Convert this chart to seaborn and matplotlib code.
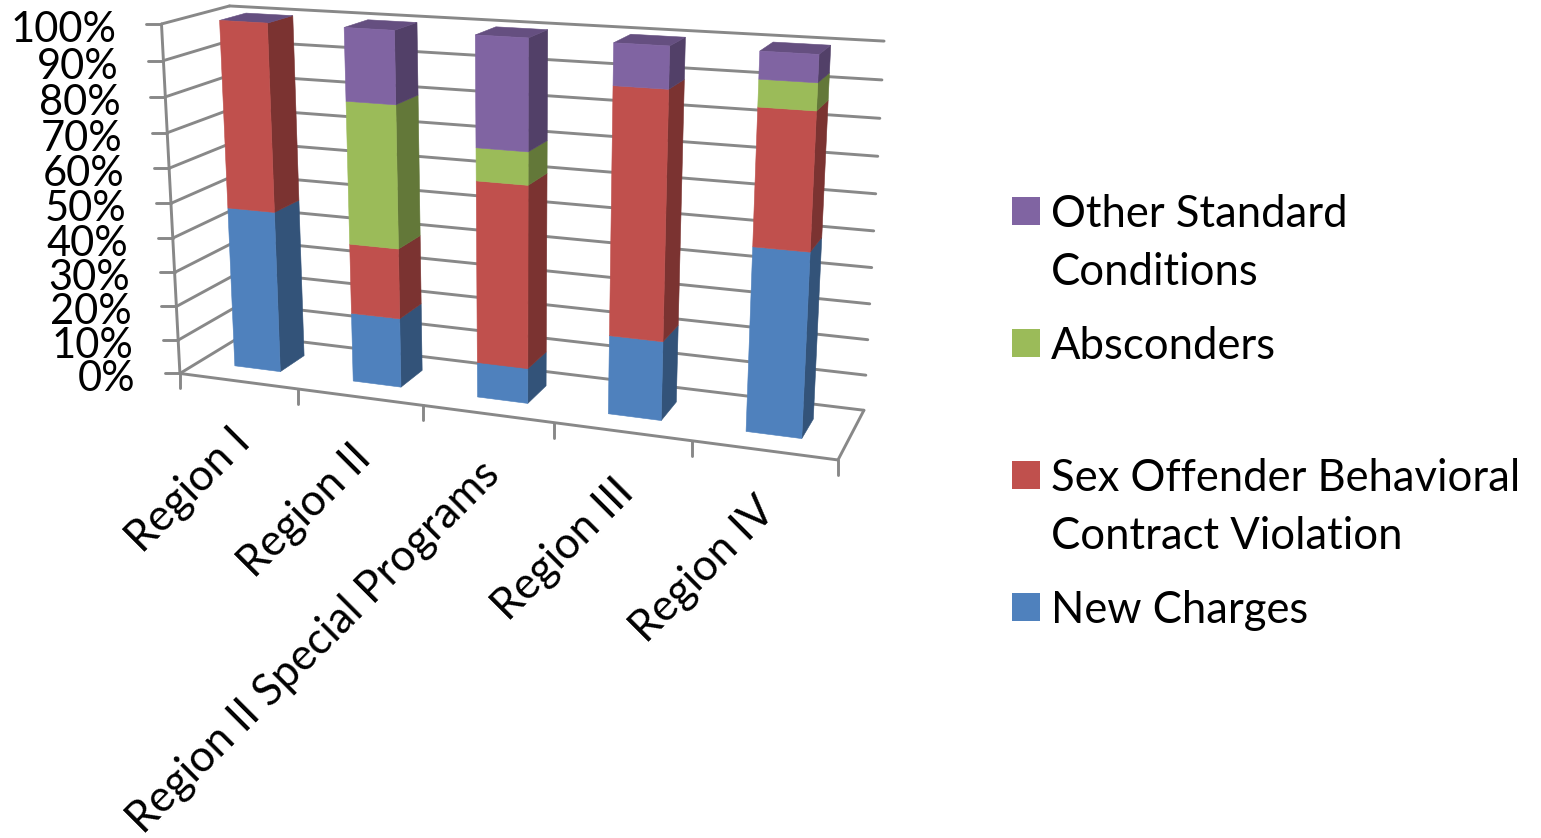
import numpy as np
import pandas as pd
import matplotlib
matplotlib.use("Agg")
import matplotlib.pyplot as plt
import seaborn as sns

# Data
regions = ["Region I", "Region II", "Region II Special Programs", "Region III", "Region IV"]
new_charges = [47, 20, 10, 22, 50]
behavioral = [53, 20, 51, 67, 36]
absconders = [0, 40, 9, 0, 7]
other_standard = [0, 20, 30, 11, 7]
y_ticks = list(range(0, 101, 10))
legend_labels = ["Other Standard\nConditions", "Absconders",
                 "Sex Offender Behavioral\nContract Violation", "New Charges"]

COLORS = sns.color_palette(["#4F81BD", "#C0504D", "#9BBB59", "#8064A2"])
GRID = "#888888"
GRID_LW = 2.1
FONT = "Lato"
YTICK_SIZE = 30
XTICK_SIZE = 31.4
LEGEND_SIZE = 31.4

# Camera fit: box corners (category, depth, percent) -> pixel position
CAL_3D = np.array([[0, 0, 0], [5, 0, 0], [0, 1, 0], [5, 1, 0], [0, 0, 100], [0, 1, 100], [5, 1, 100],
                   [1, 0, 0], [2, 0, 0], [3, 0, 0], [4, 0, 0]], dtype=float)
CAL_2D = np.array([[180, 373], [838, 460], [243, 335], [864, 410], [161, 24], [230, 6], [884, 41],
                   [299, 389], [423, 405.5], [554, 422.8], [692, 441]], dtype=float)


def fit_camera(p3, p2):
    rows, rhs = [], []
    for (x, d, z), (u, v) in zip(p3, p2):
        rows.append([x, d, z, 1, 0, 0, 0, 0, -u * x, -u * d, -u * z])
        rows.append([0, 0, 0, 0, x, d, z, 1, -v * x, -v * d, -v * z])
        rhs += [u, v]
    sol = np.linalg.lstsq(np.array(rows), np.array(rhs), rcond=None)[0]
    return np.append(sol, 1).reshape(3, 4)


CAM = fit_camera(CAL_3D, CAL_2D)


def project(x, d, z):
    u, v, w = CAM @ np.array([x, d, z, 1.0])
    return u / w, v / w


def line3d(ax, a, b, **kw):
    pa, pb = project(*a), project(*b)
    ax.plot([pa[0], pb[0]], [pa[1], pb[1]], color=GRID, lw=GRID_LW, solid_capstyle="round", zorder=1, **kw)


def face(ax, pts, color, z):
    xy = [project(*p) for p in pts]
    ax.fill([p[0] for p in xy], [p[1] for p in xy], color=color, lw=0.4, zorder=z)


sns.set_theme(style="white")
plt.rcParams["font.family"] = [FONT, "DejaVu Sans"]

fig = plt.figure(figsize=(15.41, 8.38), dpi=100)
ax = fig.add_axes([0, 0, 1, 1])
ax.set_xlim(0, 1541)
ax.set_ylim(838, 0)
ax.axis("off")

# walls and floor
for val in y_ticks:
    line3d(ax, (0, 0, val), (0, 1, val))
    line3d(ax, (0, 1, val), (5, 1, val))
    px, py = project(0, 0, val)
    ax.plot([px - 15, px], [py, py], color=GRID, lw=GRID_LW, zorder=1)
    ax.text(px - 45, py + 6, f"{val}%", ha="right", va="center", fontsize=YTICK_SIZE, color="black")
line3d(ax, (0, 0, 0), (0, 0, 100))
line3d(ax, (0, 0, 0), (5, 0, 0))
line3d(ax, (5, 0, 0), (5, 1, 0))
for i in range(6):
    px, py = project(i, 0, 0)
    ax.plot([px, px], [py, py + 15], color=GRID, lw=GRID_LW, zorder=1)

# stacked boxes
df = pd.DataFrame({"new": new_charges, "behavioral": behavioral,
                   "absconders": absconders, "other": other_standard}, index=regions)
tops = df.cumsum(axis=1)
X0, X1, D0, D1 = 0.305, 0.695, 0.30, 0.70
for i, region in enumerate(regions):
    base = 0
    for col, color in zip(df.columns, COLORS):
        top = tops.loc[region, col]
        side = tuple(c * 0.64 for c in color)
        if top > base:
            face(ax, [(i + X1, D0, base), (i + X1, D1, base), (i + X1, D1, top), (i + X1, D0, top)], side, 3)
            face(ax, [(i + X0, D0, base), (i + X1, D0, base), (i + X1, D0, top), (i + X0, D0, top)], color, 4)
        base = top
    cap = tuple(c * 0.79 for c in COLORS[-1])
    face(ax, [(i + X0, D0, 100), (i + X1, D0, 100), (i + X1, D1, 100), (i + X0, D1, 100)], cap, 3)

    # category label, rotated, ends under the middle of the slot
    px, py = project(i + 0.5, 0, 0)
    ax.text(px + 5, py + 54, region, rotation=45, rotation_mode="anchor", ha="right", va="center",
            fontsize=XTICK_SIZE, color="black")

# legend
for k, (label, color) in enumerate(zip(legend_labels, COLORS[::-1])):
    cy = 211 + 132 * k
    ax.add_patch(plt.Rectangle((1012, cy - 14), 28, 28, color=color, lw=0))
    ax.text(1051, cy - 17, label, ha="left", va="top", fontsize=LEGEND_SIZE, color="black", linespacing=1.53)

fig.savefig("out.png", dpi=100, facecolor="white")
